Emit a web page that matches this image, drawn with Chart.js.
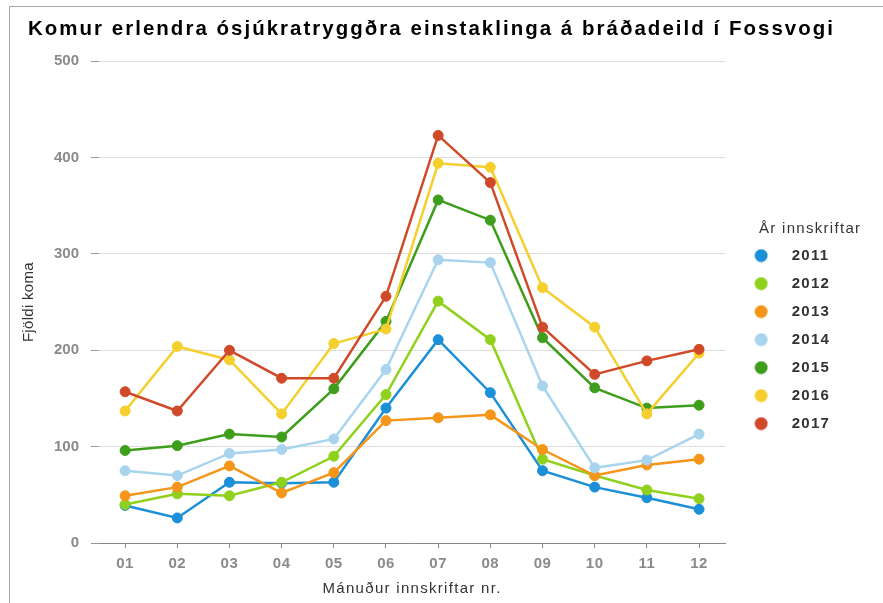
<!DOCTYPE html>
<html>
<head>
<meta charset="utf-8">
<script src="https://cdn.jsdelivr.net/npm/chart.js@4/dist/chart.umd.min.js"></script>
<style>
  html, body { margin: 0; padding: 0; background: #ffffff; }
  #wrap { position: relative; width: 883px; height: 603px; overflow: hidden; }
  #frame { position: absolute; left: 9px; top: 6px; width: 900px; height: 620px;
           border-left: 1px solid #a8a8a8; border-top: 1px solid #a8a8a8; pointer-events: none; }
  canvas { position: absolute; left: 0; top: 0; }
</style>
</head>
<body>
<div id="wrap">
  <canvas id="c" width="883" height="603"></canvas>
  <div id="frame"></div>
</div>
<script>
const chartTitle = 'Komur erlendra ósjúkratryggðra einstaklinga á bráðadeild í Fossvogi';
const xTitle = 'Mánuður innskriftar nr.';
const yTitle = 'Fjöldi koma';
const legendTitle = 'År innskriftar';

const months = ['01','02','03','04','05','06','07','08','09','10','11','12'];
const years = ['2011','2012','2013','2014','2015','2016','2017'];

const v2011 = [39, 26, 63, 62, 63, 140, 211, 156, 75, 58, 47, 35];
const v2012 = [40, 51, 49, 63, 90, 154, 251, 211, 87, 70, 55, 46];
const v2013 = [49, 58, 80, 52, 73, 127, 130, 133, 97, 70, 81, 87];
const v2014 = [75, 70, 93, 97, 108, 180, 294, 291, 163, 78, 86, 113];
const v2015 = [96, 101, 113, 110, 160, 230, 356, 335, 213, 161, 140, 143];
const v2016 = [137, 204, 190, 134, 207, 222, 394, 390, 265, 224, 134, 197];
const v2017 = [157, 137, 200, 171, 171, 256, 423, 374, 224, 175, 189, 201];

const seriesValues = [v2011, v2012, v2013, v2014, v2015, v2016, v2017];
const colors = ['#1b8fd8', '#8fd11c', '#f5961a', '#a8d4ee', '#3e9e1c', '#f4cf2e', '#d04a2a'];

const yTicks = [0, 100, 200, 300, 400, 500];

function makeDot(color) {
  const c = document.createElement('canvas');
  c.width = 14; c.height = 14;
  const g = c.getContext('2d');
  g.fillStyle = color;
  g.beginPath();
  g.arc(7, 7, 6.5, 0, Math.PI * 2);
  g.fill();
  return c;
}

const datasets = years.map((y, i) => ({
  label: y,
  data: seriesValues[i],
  borderColor: colors[i],
  backgroundColor: colors[i],
  pointBackgroundColor: colors[i],
  pointBorderColor: colors[i],
  pointRadius: 5,
  pointBorderWidth: 1,
  pointStyle: 'circle',
  borderWidth: 2.5,
  tension: 0,
  fill: false,
  order: years.length - i
}));

const FONT = "'Liberation Sans', Arial, sans-serif";

// letter spacing helper for the wide text rendering of the original
function withSpacing(obj, method, spacing) {
  if (!obj || typeof obj[method] !== 'function' || obj['__sp_' + method]) return;
  const orig = obj[method];
  obj['__sp_' + method] = true;
  obj[method] = function (...args) {
    const ctx = this.ctx;
    const prev = ctx.letterSpacing;
    ctx.letterSpacing = spacing;
    const r = orig.apply(this, args);
    ctx.letterSpacing = prev || '0px';
    return r;
  };
}

const textTweaks = {
  id: 'textTweaks',
  afterLayout(chart) {
    if (chart.legend) {
      chart.legend.width = 170;
      chart.legend.right = chart.legend.left + 170;
    }
  },
  beforeDraw(chart) {
    withSpacing(chart.titleBlock, 'draw', '2.1px');
    withSpacing(chart.legend, 'draw', '1.3px');
    withSpacing(chart.legend, '_drawTitle', '1.8px');
    withSpacing(chart.scales.x, 'drawTitle', '1.3px');
    withSpacing(chart.scales.x, 'drawLabels', '0.5px');
    withSpacing(chart.scales.y, 'drawTitle', '0.3px');
  }
};

new Chart(document.getElementById('c'), {
  type: 'line',
  data: { labels: months, datasets: datasets },
  plugins: [textTweaks],
  options: {
    responsive: false,
    animation: false,
    devicePixelRatio: 1,
    layout: { padding: { left: 28, right: 48, top: 0, bottom: 5 } },
    plugins: {
      tooltip: { enabled: false },
      title: {
        display: true,
        text: chartTitle,
        align: 'start',
        color: '#000000',
        font: { family: FONT, size: 21, weight: 'bold' },
        padding: { top: 17, bottom: 19 }
      },
      legend: {
        display: true,
        position: 'right',
        align: 'center',
        fullSize: false,
        title: {
          display: true,
          text: legendTitle,
          position: 'center',
          color: '#333333',
          font: { family: FONT, size: 15, weight: 'normal' },
          padding: { top: 61, bottom: -4 }
        },
        labels: {
          usePointStyle: true,
          pointStyleWidth: 46,
          color: '#888888',
          padding: 13,
          font: { family: FONT, size: 15, weight: 'bold' },
          generateLabels(chart) {
            return chart.data.datasets.map((ds, i) => ({
              text: ds.label,
              fillStyle: ds.backgroundColor,
              strokeStyle: ds.borderColor,
              lineWidth: 0,
              pointStyle: makeDot(ds.borderColor),
              hidden: false,
              datasetIndex: i
            }));
          }
        }
      }
    },
    scales: {
      x: {
        type: 'category',
        offset: true,
        grid: {
          display: true,
          offset: false,
          drawOnChartArea: false,
          drawTicks: true,
          tickLength: 5,
          tickColor: '#888888'
        },
        border: { display: true, color: '#888888', width: 1 },
        ticks: {
          color: '#8a8a8a',
          padding: 7,
          font: { family: FONT, size: 15, weight: 'bold' }
        },
        title: {
          display: true,
          text: xTitle,
          color: '#333333',
          font: { family: FONT, size: 15, weight: 'normal' },
          padding: { top: 0, bottom: 0 }
        }
      },
      y: {
        min: 0,
        max: 500,
        afterBuildTicks(scale) { scale.ticks = yTicks.map(v => ({ value: v })); },
        grid: {
          color: '#dddddd',
          lineWidth: 1,
          drawTicks: true,
          tickLength: 8,
          tickColor: '#999999'
        },
        border: { display: false },
        ticks: {
          color: '#8a8a8a',
          padding: 12,
          font: { family: FONT, size: 15, weight: 'bold' }
        },
        title: {
          display: true,
          text: yTitle,
          color: '#333333',
          font: { family: FONT, size: 15, weight: 'normal' },
          padding: { top: -8, bottom: 4 }
        }
      }
    }
  }
});
</script>
</body>
</html>
